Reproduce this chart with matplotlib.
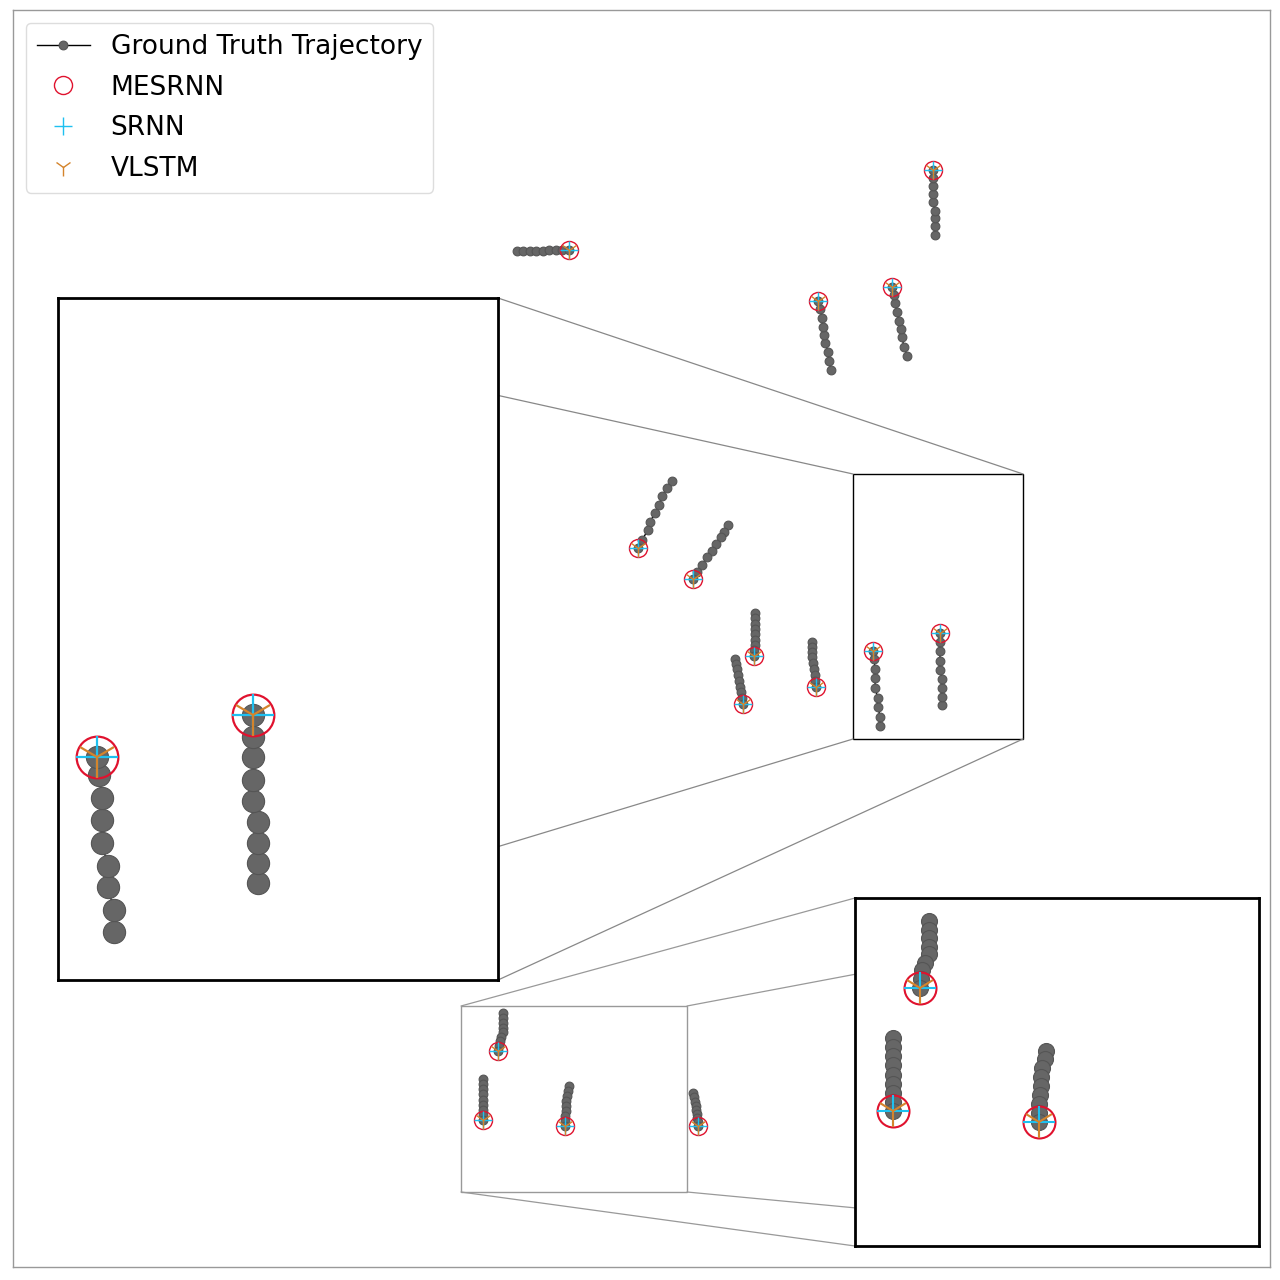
import matplotlib.pyplot as plt
from matplotlib.patches import Rectangle, ConnectionPatch

# observed pedestrian tracks in world coordinates (m); last point = current position
ped_x = [
    [9.22, 9.22, 9.22, 9.22, 9.20, 9.20, 9.20, 9.20, 9.20],
    [8.94, 8.91, 8.89, 8.88, 8.86, 8.84, 8.82, 8.81, 8.79],
    [8.18, 8.16, 8.15, 8.12, 8.11, 8.10, 8.09, 8.07, 8.05],
    [5.04, 5.10, 5.17, 5.23, 5.30, 5.36, 5.43, 5.49, 5.56],
    [6.59, 6.54, 6.49, 6.46, 6.42, 6.37, 6.35, 6.29, 6.25],
    [7.15, 7.11, 7.08, 7.03, 6.99, 6.94, 6.89, 6.84, 6.80],
    [7.42, 7.42, 7.42, 7.42, 7.42, 7.42, 7.415, 7.41, 7.41],
    [7.22, 7.23, 7.24, 7.25, 7.26, 7.27, 7.28, 7.29, 7.30],
    [7.99, 7.99, 7.99, 7.99, 8.00, 8.01, 8.02, 8.02, 8.03],
    [8.673, 8.673, 8.647, 8.647, 8.621, 8.621, 8.621, 8.609, 8.60],
    [9.291, 9.291, 9.291, 9.291, 9.27, 9.27, 9.27, 9.27, 9.27],
    [4.90, 4.90, 4.90, 4.90, 4.90, 4.88, 4.865, 4.855, 4.85],
    [4.703, 4.703, 4.703, 4.703, 4.703, 4.703, 4.703, 4.703, 4.703],
    [5.56, 5.55, 5.535, 5.53, 5.53, 5.525, 5.52, 5.52, 5.52],
    [6.80, 6.81, 6.82, 6.825, 6.83, 6.835, 6.84, 6.845, 6.85],
]
ped_y = [
    [10.32, 10.41, 10.49, 10.56, 10.65, 10.73, 10.81, 10.89, 10.97],
    [9.11, 9.20, 9.30, 9.38, 9.46, 9.55, 9.64, 9.72, 9.80],
    [8.97, 9.06, 9.15, 9.24, 9.32, 9.40, 9.49, 9.58, 9.66],
    [10.16, 10.16, 10.16, 10.165, 10.165, 10.17, 10.17, 10.17, 10.17],
    [7.86, 7.79, 7.71, 7.62, 7.54, 7.45, 7.37, 7.27, 7.19],
    [7.42, 7.35, 7.30, 7.23, 7.16, 7.10, 7.02, 6.95, 6.88],
    [6.54, 6.49, 6.43, 6.38, 6.33, 6.27, 6.22, 6.17, 6.11],
    [6.08, 6.03, 5.98, 5.92, 5.86, 5.80, 5.75, 5.69, 5.63],
    [6.25, 6.20, 6.15, 6.10, 6.04, 5.98, 5.92, 5.86, 5.80],
    [5.41, 5.503, 5.60, 5.692, 5.79, 5.89, 5.984, 6.083, 6.16],
    [5.62, 5.705, 5.79, 5.88, 5.97, 6.06, 6.16, 6.246, 6.34],
    [2.54, 2.49, 2.44, 2.39, 2.35, 2.30, 2.26, 2.21, 2.16],
    [1.88, 1.83, 1.78, 1.73, 1.67, 1.62, 1.57, 1.52, 1.47],
    [1.81, 1.76, 1.71, 1.66, 1.61, 1.56, 1.51, 1.46, 1.41],
    [1.74, 1.70, 1.65, 1.61, 1.57, 1.53, 1.49, 1.45, 1.41],
]

# predicted positions of each model
mesrnn_x = [9.20, 8.79, 8.05, 5.56, 6.25, 6.80, 7.41, 7.30, 8.03, 8.60, 9.27, 4.85, 4.703, 5.52, 6.85]
mesrnn_y = [10.97, 9.80, 9.66, 10.17, 7.19, 6.88, 6.11, 5.63, 5.80, 6.16, 6.34, 2.16, 1.47, 1.41, 1.41]
srnn_x = [9.20, 8.79, 8.05, 5.56, 6.25, 6.80, 7.41, 7.30, 8.03, 8.60, 9.27, 4.85, 4.703, 5.52, 6.85]
srnn_y = [10.97, 9.80, 9.66, 10.17, 7.19, 6.88, 6.11, 5.63, 5.80, 6.16, 6.34, 2.16, 1.47, 1.41, 1.41]
vlstm_x = [9.20, 8.79, 8.05, 5.56, 6.25, 6.80, 7.41, 7.30, 8.03, 8.60, 9.27, 4.85, 4.703, 5.52, 6.85]
vlstm_y = [10.97, 9.80, 9.66, 10.17, 7.19, 6.88, 6.11, 5.63, 5.80, 6.16, 6.34, 2.16, 1.47, 1.41, 1.41]

scene_lim = (0, 12.57)

# zoom windows: view limits of the inset and the box marked on the scene
zoom1_xlim, zoom1_ylim = (8.433, 10.32), (5.203, 8.13)
zoom1_box = (8.40, 5.28, 10.10, 7.93)
zoom2_xlim, zoom2_ylim = (4.488, 6.75), (0.712, 2.667)
zoom2_box = (4.48, 0.75, 6.74, 2.61)

GT_COLOR = '#666666'
RED = '#e0122e'
BLUE = '#1ec0f0'
ORANGE = '#d4842c'


def draw(ax, ms_gt, ms_pred, mew, legend=False):
    for i in range(len(ped_x)):
        ax.plot(ped_x[i], ped_y[i], '-o', color='k', lw=1, ms=ms_gt,
                mfc=GT_COLOR, mec='#555555', mew=0.8,
                label='Ground Truth Trajectory' if (legend and i == 0) else None)
    ax.plot(mesrnn_x, mesrnn_y, 'o', ls='none', ms=ms_pred, mfc='none', mec=RED, mew=mew,
            label='MESRNN' if legend else None)
    ax.plot(srnn_x, srnn_y, '+', ls='none', ms=ms_pred, color=BLUE, mew=mew,
            label='SRNN' if legend else None)
    ax.plot(vlstm_x, vlstm_y, '1', ls='none', ms=ms_pred, color=ORANGE, mew=mew,
            label='VLSTM' if legend else None)


fig = plt.figure(figsize=(12.8, 12.8), dpi=100)
ax = fig.add_axes([13 / 1280, 13 / 1280, 1257 / 1280, 1257 / 1280])
draw(ax, 6.3, 13, 1.0, legend=True)
ax.set_xlim(scene_lim)
ax.set_ylim(scene_lim)
ax.set_xticks([])
ax.set_yticks([])
for s in ax.spines.values():
    s.set_color('#999999')
    s.set_linewidth(1)

leg = ax.legend(loc='upper left', fontsize=19, labelspacing=0.56,
                borderaxespad=0.5, framealpha=1)
leg.get_frame().set_edgecolor('#dddddd')


def add_zoom(pos, xlim, ylim, box, ms_gt, ms_pred, mew, box_color, line_color):
    axins = fig.add_axes(pos)
    draw(axins, ms_gt, ms_pred, mew)
    axins.set_xlim(xlim)
    axins.set_ylim(ylim)
    axins.set_xticks([])
    axins.set_yticks([])
    for s in axins.spines.values():
        s.set_color('k')
        s.set_linewidth(2)
    x0, y0, x1, y1 = box
    ax.add_patch(Rectangle((x0, y0), x1 - x0, y1 - y0, fill=False,
                           ec=box_color, lw=1, zorder=1))
    for bx, by, fx, fy in [(x0, y1, 0, 1), (x1, y1, 1, 1), (x0, y0, 0, 0), (x1, y0, 1, 0)]:
        con = ConnectionPatch(xyA=(bx, by), coordsA=ax.transData,
                              xyB=(fx, fy), coordsB=axins.transAxes,
                              color=line_color, lw=0.9, zorder=1)
        ax.add_artist(con)
    return axins


add_zoom([58 / 1280, 1 - 980 / 1280, 440 / 1280, 682 / 1280],
         zoom1_xlim, zoom1_ylim, zoom1_box, 16, 30, 1.6, 'k', '#888888')
add_zoom([855 / 1280, 1 - 1246 / 1280, 404 / 1280, 348 / 1280],
         zoom2_xlim, zoom2_ylim, zoom2_box, 11.5, 23, 1.5, '#999999', '#999999')

fig.savefig('out.png', dpi=100)
